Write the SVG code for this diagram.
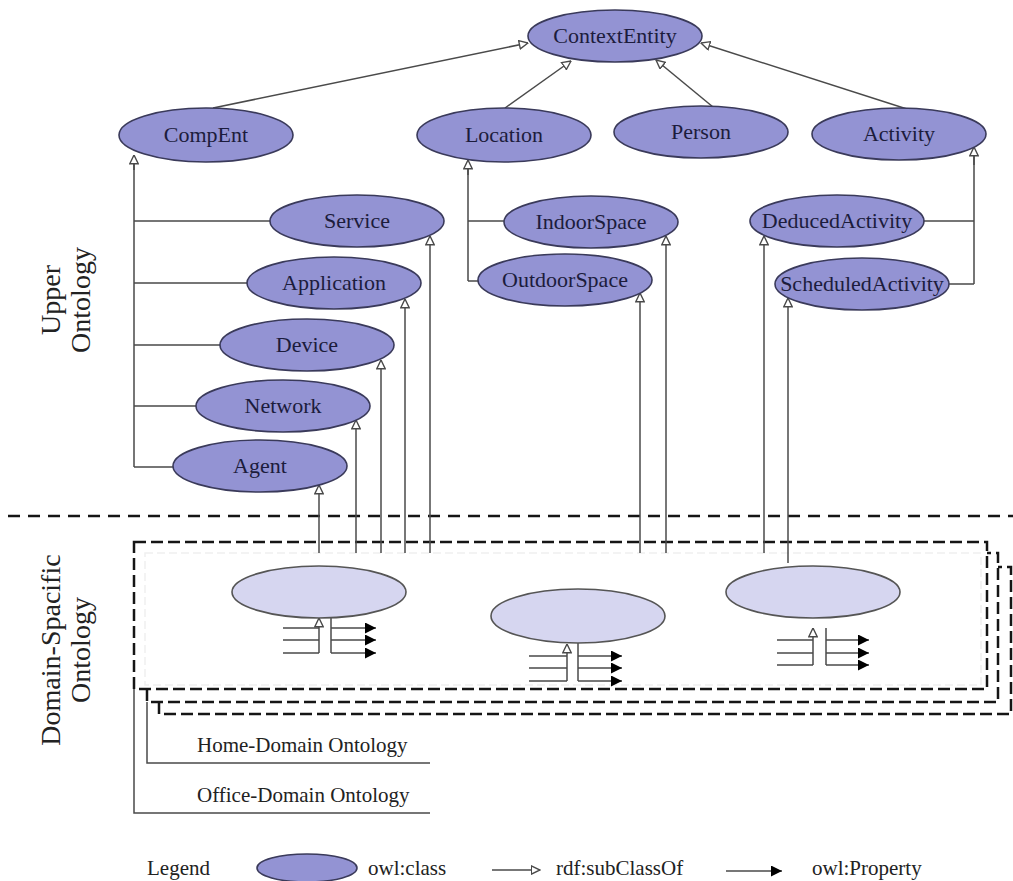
<svg xmlns="http://www.w3.org/2000/svg" width="1013" height="881" viewBox="0 0 1013 881">
  <defs>
    <style>
      .cls { fill: #9393d3; stroke: #3a3a5a; stroke-width: 1.6; }
      .dcls { fill: #d6d6f0; stroke: #555; stroke-width: 1.6; }
      .lbl { font-family: "Liberation Serif", "Times New Roman", serif; font-size: 22px; fill: #1c1c3c; text-anchor: middle; }
      .txt { font-family: "Liberation Serif", "Times New Roman", serif; font-size: 21px; fill: #222; }
      .side { font-family: "Liberation Serif", "Times New Roman", serif; font-size: 28px; fill: #222; text-anchor: middle; }
      .edge { fill: none; stroke: #4a4a4a; stroke-width: 1.5; }
      .sub { marker-end: url(#hollow); }
      .prop { marker-end: url(#solid); }
      .dash { fill: none; stroke: #151515; stroke-width: 2.5; stroke-dasharray: 12 5; }
    </style>
    <marker id="hollow" viewBox="0 0 10 10" refX="9.5" refY="5" markerWidth="10" markerHeight="10" markerUnits="userSpaceOnUse" orient="auto">
      <path d="M0.8,0.8 L9.5,5 L0.8,9.2 Z" fill="#fff" stroke="#4a4a4a" stroke-width="1.4"/>
    </marker>
    <marker id="solid" viewBox="0 0 10 10" refX="10" refY="5" markerWidth="11" markerHeight="11" markerUnits="userSpaceOnUse" orient="auto">
      <path d="M0,0 L10,5 L0,10 Z" fill="#000"/>
    </marker>
  </defs>

  <rect width="1013" height="881" fill="#fff"/>

  <!-- section labels -->
  <g id="labels">
    <text class="side" transform="translate(60,300) rotate(-90)"><tspan x="0" y="0">Upper</tspan><tspan x="0" y="30">Ontology</tspan></text>
    <text class="side" transform="translate(60,650) rotate(-90)"><tspan x="0" y="0">Domain-Spacific</tspan><tspan x="0" y="30">Ontology</tspan></text>
  </g>

  <!-- layer separator -->
  <line x1="8" y1="516" x2="1013" y2="516" stroke="#151515" stroke-width="2.6" stroke-dasharray="12 8"/>

  <!-- domain ontology frames -->
  <g id="domain-frames">
    <rect x="145" y="553" width="836" height="132" fill="none" stroke="#f0f0f0" stroke-width="1.5" stroke-dasharray="8 4"/>
    <path class="dash" d="M159,702 V714 H1011 V567 H998"/>
    <path class="dash" d="M147,689 V702 H998 V553 H987"/>
    <rect class="dash" x="134" y="542" width="853" height="147"/>
    <path class="edge" d="M147,702 V763 H430"/>
    <path class="edge" d="M134,689 V813 H430"/>
    <text class="txt" x="197" y="752" font-size="22">Home-Domain Ontology</text>
    <text class="txt" x="197" y="802" font-size="22">Office-Domain Ontology</text>
  </g>

  <!-- connectors -->
  <g id="connectors">
    <!-- top level subclass links -->
    <line class="edge sub" x1="213" y1="108" x2="528" y2="43"/>
    <line class="edge sub" x1="505" y1="108" x2="571" y2="61"/>
    <line class="edge sub" x1="713" y1="107" x2="656" y2="60"/>
    <line class="edge sub" x1="910" y1="110" x2="701" y2="43"/>
    <!-- CompEnt subtree -->
    <path class="edge" d="M134,467 V160 M134,221 H270 M134,283 H247 M134,345 H220 M134,406 H196 M134,467 H173"/>
    <line class="edge sub" x1="134" y1="170" x2="134" y2="155"/>
    <!-- Location subtree -->
    <path class="edge" d="M468,281 V166 M468,221 H504 M468,281 H478"/>
    <line class="edge sub" x1="468" y1="175" x2="468" y2="160"/>
    <!-- Activity subtree -->
    <path class="edge" d="M974,284 V155 M923,221 H974 M948,284 H974"/>
    <line class="edge sub" x1="974" y1="165" x2="974" y2="147"/>
    <!-- domain classes to upper classes -->
    <line class="edge sub" x1="319" y1="553" x2="319" y2="485"/>
    <line class="edge sub" x1="356" y1="553" x2="356" y2="420"/>
    <line class="edge sub" x1="381" y1="553" x2="381" y2="360"/>
    <line class="edge sub" x1="405" y1="553" x2="405" y2="299"/>
    <line class="edge sub" x1="430" y1="553" x2="430" y2="236"/>
    <line class="edge sub" x1="640" y1="553" x2="640" y2="293"/>
    <line class="edge sub" x1="666" y1="553" x2="666" y2="236"/>
    <line class="edge sub" x1="764" y1="553" x2="764" y2="236"/>
    <line class="edge sub" x1="788" y1="563" x2="788" y2="298"/>
    <!-- domain cluster 1 -->
    <path class="edge" d="M283,628 H319 M283,640 H319 M283,653 H319"/>
    <line class="edge sub" x1="319" y1="653" x2="319" y2="618"/>
    <path class="edge" d="M331,617 V653"/>
    <line class="edge prop" x1="331" y1="628" x2="376" y2="628"/>
    <line class="edge prop" x1="331" y1="640" x2="376" y2="640"/>
    <line class="edge prop" x1="331" y1="653" x2="376" y2="653"/>
    <!-- domain cluster 2 -->
    <path class="edge" d="M529,656 H567 M529,668 H567 M529,681 H567"/>
    <line class="edge sub" x1="567" y1="681" x2="567" y2="644"/>
    <path class="edge" d="M578,643 V681"/>
    <line class="edge prop" x1="578" y1="656" x2="622" y2="656"/>
    <line class="edge prop" x1="578" y1="668" x2="622" y2="668"/>
    <line class="edge prop" x1="578" y1="681" x2="622" y2="681"/>
    <!-- domain cluster 3 -->
    <path class="edge" d="M777,640 H813 M777,653 H813 M777,665 H813"/>
    <line class="edge sub" x1="813" y1="665" x2="813" y2="628"/>
    <path class="edge" d="M826,628 V665"/>
    <line class="edge prop" x1="826" y1="640" x2="869" y2="640"/>
    <line class="edge prop" x1="826" y1="653" x2="869" y2="653"/>
    <line class="edge prop" x1="826" y1="665" x2="869" y2="665"/>
  </g>

  <!-- upper ontology classes -->
  <g id="ContextEntity"><ellipse class="cls" cx="615" cy="36" rx="87" ry="26"/><text class="lbl" x="615" y="43">ContextEntity</text></g>
  <g id="CompEnt"><ellipse class="cls" cx="206" cy="135" rx="87" ry="27"/><text class="lbl" x="206" y="142">CompEnt</text></g>
  <g id="Location"><ellipse class="cls" cx="504" cy="135" rx="87" ry="27"/><text class="lbl" x="504" y="142">Location</text></g>
  <g id="Person"><ellipse class="cls" cx="701" cy="132" rx="87" ry="26"/><text class="lbl" x="701" y="139">Person</text></g>
  <g id="Activity"><ellipse class="cls" cx="899" cy="134" rx="87" ry="26"/><text class="lbl" x="899" y="141">Activity</text></g>
  <g id="Service"><ellipse class="cls" cx="357" cy="221" rx="87" ry="26"/><text class="lbl" x="357" y="228">Service</text></g>
  <g id="Application"><ellipse class="cls" cx="334" cy="283" rx="87" ry="26"/><text class="lbl" x="334" y="290">Application</text></g>
  <g id="Device"><ellipse class="cls" cx="307" cy="345" rx="87" ry="26"/><text class="lbl" x="307" y="352">Device</text></g>
  <g id="Network"><ellipse class="cls" cx="283" cy="406" rx="87" ry="26"/><text class="lbl" x="283" y="413">Network</text></g>
  <g id="Agent"><ellipse class="cls" cx="260" cy="466" rx="87" ry="26"/><text class="lbl" x="260" y="473">Agent</text></g>
  <g id="IndoorSpace"><ellipse class="cls" cx="591" cy="222" rx="87" ry="26"/><text class="lbl" x="591" y="229">IndoorSpace</text></g>
  <g id="OutdoorSpace"><ellipse class="cls" cx="565" cy="280" rx="87" ry="26"/><text class="lbl" x="565" y="287">OutdoorSpace</text></g>
  <g id="DeducedActivity"><ellipse class="cls" cx="837" cy="221" rx="87" ry="26"/><text class="lbl" x="837" y="228">DeducedActivity</text></g>
  <g id="ScheduledActivity"><ellipse class="cls" cx="862" cy="284" rx="87" ry="26"/><text class="lbl" x="862" y="291">ScheduledActivity</text></g>

  <!-- domain classes -->
  <g id="domain-class-1"><ellipse class="dcls" cx="319" cy="592" rx="87" ry="26"/></g>
  <g id="domain-class-2"><ellipse class="dcls" cx="578" cy="616" rx="87" ry="27"/></g>
  <g id="domain-class-3"><ellipse class="dcls" cx="813" cy="592" rx="87" ry="26"/></g>

  <!-- legend -->
  <g id="legend">
    <text class="txt" x="147" y="875">Legend</text>
    <ellipse class="cls" cx="307" cy="868" rx="50" ry="14" stroke="none"/>
    <text class="txt" x="368" y="875">owl:class</text>
    <line class="edge sub" x1="492" y1="870" x2="540" y2="870"/>
    <text class="txt" x="556" y="875">rdf:subClassOf</text>
    <line class="edge prop" x1="726" y1="871" x2="782" y2="871"/>
    <text class="txt" x="812" y="875">owl:Property</text>
  </g>
</svg>
